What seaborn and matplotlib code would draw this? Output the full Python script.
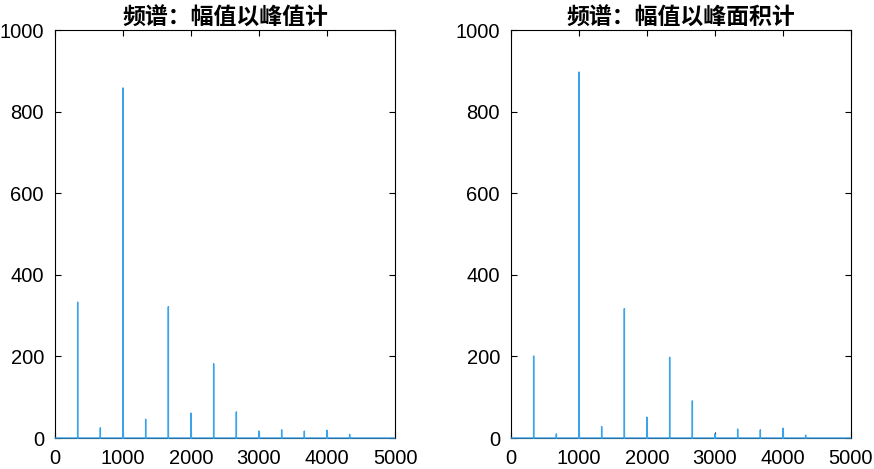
import numpy as np
import pandas as pd
import matplotlib
matplotlib.use("Agg")
import matplotlib.pyplot as plt
import seaborn as sns

# ---- data ----
peak_freqs = [333, 667, 1000, 1333, 1667, 2000, 2333, 2667, 3000, 3333, 3667, 4000, 4333]
amp_peak = [333, 25, 858, 46, 322, 61, 182, 64, 17, 20, 17, 19, 9]
amp_area = [201, 10, 897, 28, 317, 51, 198, 91, 10, 22, 20, 24, 7]
titles = ["频谱：幅值以峰值计", "频谱：幅值以峰面积计"]
x_ticks = [0, 1000, 2000, 3000, 4000, 5000]
y_ticks = [0, 200, 400, 600, 800, 1000]
f_min, f_max = 0, 5000


def spectrum_frame(freqs, amps):
    xs, ys = [f_min], [0.0]
    for f, a in zip(freqs, amps):
        xs += [f - 1, f, f + 1]
        ys += [0.0, a, 0.0]
    xs.append(f_max)
    ys.append(0.0)
    return pd.DataFrame({"f": xs, "a": ys})


sns.set_theme(style="white")
plt.rcParams["font.family"] = ["Liberation Sans", "Noto Sans CJK SC", "DejaVu Sans"]
plt.rcParams["text.color"] = "black"

fig = plt.figure(figsize=(8.74, 4.69), dpi=100)
rects = [[55 / 874, 31 / 469, 340 / 874, 408 / 469],
         [511 / 874, 31 / 469, 340 / 874, 408 / 469]]

for rect, amps, title in zip(rects, [amp_peak, amp_area], titles):
    ax = fig.add_axes(rect)
    df = spectrum_frame(peak_freqs, amps)
    sns.lineplot(data=df, x="f", y="a", sort=False, estimator=None,
                 color="#3aa3ea", linewidth=1.0, ax=ax)
    for ln in ax.get_lines():
        ln.set_zorder(3)
        ln.set_clip_on(False)
    ax.set_xlim(0, 5000)
    ax.set_ylim(0, 1000)
    ax.set_xticks(x_ticks)
    ax.set_yticks(y_ticks)
    ax.set_xlabel("")
    ax.set_ylabel("")
    ax.tick_params(direction="in", length=4, width=0.8, colors="black",
                   labelsize=14.5, top=True, right=True, bottom=True, left=True, pad=8)
    for s in ax.spines.values():
        s.set_visible(True)
        s.set_color("black")
        s.set_linewidth(0.8)
    ax.set_title(title, fontsize=16.5, fontweight="bold", color="black",
                 family=["Noto Sans CJK SC"], pad=4)

fig.savefig("out.png", dpi=100)
